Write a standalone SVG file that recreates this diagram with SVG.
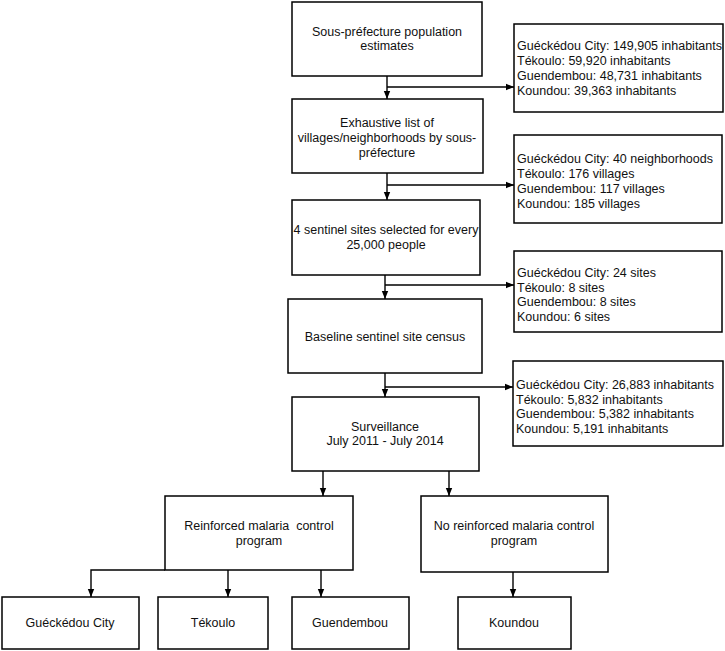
<svg xmlns="http://www.w3.org/2000/svg" width="725" height="651" viewBox="0 0 725 651">
<defs>
<marker id="ah" viewBox="0 0 8 8" refX="8" refY="4" markerWidth="8" markerHeight="8" markerUnits="userSpaceOnUse" orient="auto">
<path d="M0,0.8 L8,4 L0,7.2 Z" fill="#000"/>
</marker>
<style>
rect{fill:#fff;stroke:#000;stroke-width:1.5}
text{font-family:"Liberation Sans",Arial,sans-serif;font-size:12.5px;fill:#111}
.c{text-anchor:middle}
.pre{white-space:pre}
#connectors path{fill:none;stroke:#000;stroke-width:1.4}
</style>
</defs>
<rect x="0" y="0" width="725" height="651" style="fill:#fff;stroke:none"/>
<g id="connectors">
<path d="M387,76 V99" marker-end="url(#ah)"/>
<path d="M387,87 H514" marker-end="url(#ah)"/>
<path d="M387,173 V200" marker-end="url(#ah)"/>
<path d="M387,185 H514" marker-end="url(#ah)"/>
<path d="M385,275 V299" marker-end="url(#ah)"/>
<path d="M385,285 H514" marker-end="url(#ah)"/>
<path d="M385,373 V397" marker-end="url(#ah)"/>
<path d="M385,387 H513" marker-end="url(#ah)"/>
<path d="M323,471 V496" marker-end="url(#ah)"/>
<path d="M449,471 V496" marker-end="url(#ah)"/>
<path d="M165,570 H91 V597" marker-end="url(#ah)"/>
<path d="M228,570 V597" marker-end="url(#ah)"/>
<path d="M321,570 V597" marker-end="url(#ah)"/>
<path d="M513,572 V597" marker-end="url(#ah)"/>
</g>
<g id="n1"><rect x="292" y="2" width="190" height="74"/>
<text class="c" x="387" y="36">Sous-préfecture population</text>
<text class="c" x="387" y="50">estimates</text></g>
<g id="n2"><rect x="292" y="99" width="191" height="74"/>
<text class="c" x="387" y="127">Exhaustive list of</text>
<text class="c" x="387" y="142">villages/neighborhoods by sous-</text>
<text class="c" x="387" y="157">préfecture</text></g>
<g id="n3"><rect x="292" y="200" width="188" height="75"/>
<text class="c" x="386" y="234">4 sentinel sites selected for every</text>
<text class="c" x="386" y="249">25,000 people</text></g>
<g id="n4"><rect x="288" y="299" width="194" height="74"/>
<text class="c" x="385" y="341">Baseline sentinel site census</text></g>
<g id="n5"><rect x="292" y="397" width="187" height="74"/>
<text class="c" x="385" y="431">Surveillance</text>
<text class="c" x="385" y="445">July 2011 - July 2014</text></g>
<g id="n6"><rect x="165" y="496" width="188" height="74"/>
<text class="c pre" x="259" y="530">Reinforced malaria  control</text>
<text class="c" x="259" y="545">program</text></g>
<g id="n7"><rect x="421" y="496" width="187" height="76"/>
<text class="c" x="514" y="530">No reinforced malaria control</text>
<text class="c" x="514" y="545">program</text></g>
<g id="n8"><rect x="2" y="597" width="137" height="52"/>
<text class="c" x="70" y="627">Guéckédou City</text></g>
<g id="n9"><rect x="158" y="597" width="110" height="52"/>
<text class="c" x="213" y="627">Tékoulo</text></g>
<g id="n10"><rect x="292" y="597" width="117" height="52"/>
<text class="c" x="350" y="627">Guendembou</text></g>
<g id="n11"><rect x="458" y="597" width="113" height="52"/>
<text class="c" x="514" y="627">Koundou</text></g>
<g id="r1"><rect x="514" y="24" width="209" height="88"/>
<text x="517" y="50">Guéckédou City: 149,905 inhabitants</text>
<text x="517" y="65">Tékoulo: 59,920 inhabitants</text>
<text x="517" y="80">Guendembou: 48,731 inhabitants</text>
<text x="517" y="95">Koundou: 39,363 inhabitants</text></g>
<g id="r2"><rect x="514" y="135" width="208" height="88"/>
<text x="517" y="163">Guéckédou City: 40 neighborhoods</text>
<text x="517" y="178">Tékoulo: 176 villages</text>
<text x="517" y="193">Guendembou: 117 villages</text>
<text x="517" y="208">Koundou: 185 villages</text></g>
<g id="r3"><rect x="514" y="251" width="208" height="81"/>
<text x="517" y="277">Guéckédou City: 24 sites</text>
<text x="517" y="292">Tékoulo: 8 sites</text>
<text x="517" y="306">Guendembou: 8 sites</text>
<text x="517" y="321">Koundou: 6 sites</text></g>
<g id="r4"><rect x="513" y="361" width="210" height="85"/>
<text x="516" y="389">Guéckédou City: 26,883 inhabitants</text>
<text x="516" y="404">Tékoulo: 5,832 inhabitants</text>
<text x="516" y="418">Guendembou: 5,382 inhabitants</text>
<text x="516" y="433">Koundou: 5,191 inhabitants</text></g>
</svg>
